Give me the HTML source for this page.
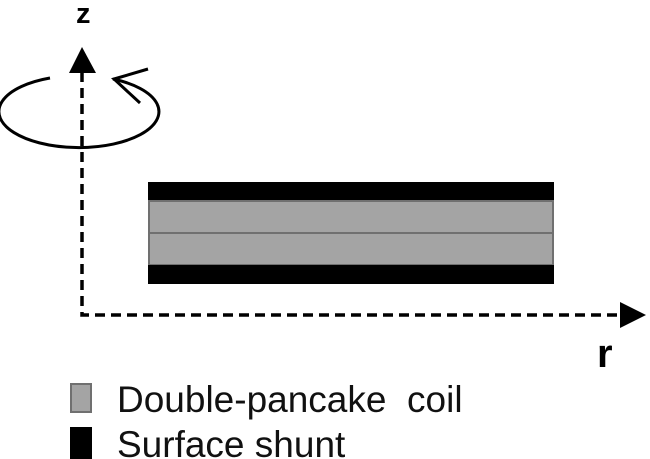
<!DOCTYPE html>
<html><head><style>body{margin:0;background:#fff}svg{display:block}</style></head><body>
<svg width="650" height="459" viewBox="0 0 650 459" xmlns="http://www.w3.org/2000/svg">
<rect x="148" y="182" width="406" height="19" fill="#000"/>
<rect x="149" y="201" width="404" height="32" fill="#a4a4a4" stroke="#707070" stroke-width="2"/>
<rect x="149" y="233" width="404" height="32" fill="#a4a4a4" stroke="#707070" stroke-width="2"/>
<rect x="148" y="265" width="406" height="19" fill="#000"/>
<path d="M82 72 V315 H622" fill="none" stroke="#000" stroke-width="3.5" stroke-dasharray="10,6"/>
<polygon points="82,47 69,73 96,73" fill="#000"/>
<polygon points="646,315 620,302 620,328" fill="#000"/>
<path d="M50 78 A80 36 0 1 0 113 79" fill="none" stroke="#000" stroke-width="3"/>
<path d="M148 69 L114 79 L140 103" fill="none" stroke="#000" stroke-width="3"/>
<text x="76" y="23" font-family="Liberation Sans, sans-serif" font-weight="bold" font-size="29">z</text>
<text x="597" y="367" font-family="Liberation Sans, sans-serif" font-weight="bold" font-size="40">r</text>
<rect x="71" y="384" width="20" height="28" fill="#a4a4a4" stroke="#707070" stroke-width="2"/>
<rect x="70" y="427" width="22" height="32" fill="#000"/>
<text x="117" y="412" font-family="Liberation Sans, sans-serif" font-size="37" fill="#111" xml:space="preserve">Double-pancake  coil</text>
<text x="117" y="457" font-family="Liberation Sans, sans-serif" font-size="37" fill="#111">Surface shunt</text>
</svg>
</body></html>
